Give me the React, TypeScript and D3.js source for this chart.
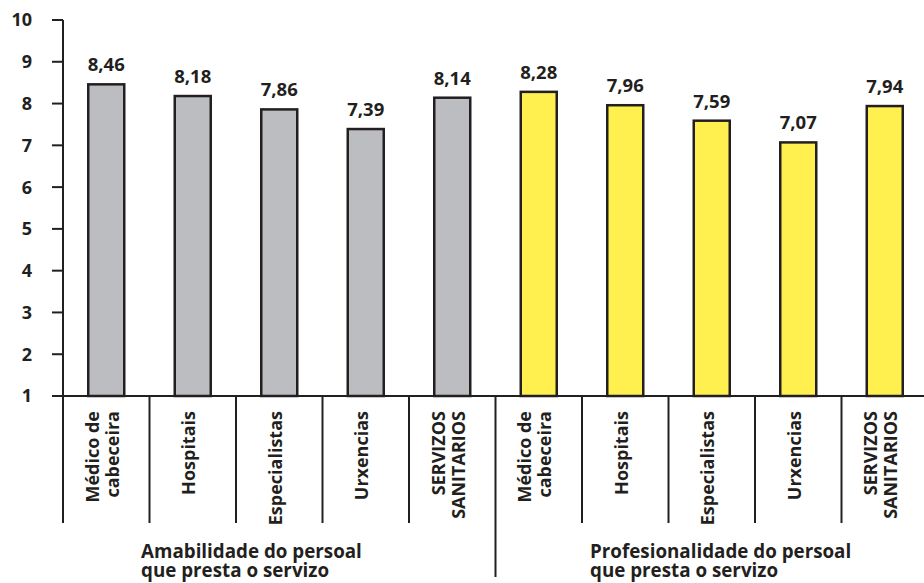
import React from "react";
import * as d3 from "d3";

const categories = ["Médico de|cabeceira", "Hospitais", "Especialistas", "Urxencias", "SERVIZOS|SANITARIOS"];
const amabilidade = [8.46, 8.18, 7.86, 7.39, 8.14];
const profesionalidade = [8.28, 7.96, 7.59, 7.07, 7.94];
const groupLabels = [
  ["Amabilidade do persoal", "que presta o servizo"],
  ["Profesionalidade do persoal", "que presta o servizo"],
];
const yTicks = [1, 2, 3, 4, 5, 6, 7, 8, 9, 10];

const W = 924;
const H = 583;
const FONT = "'Open Sans', 'DejaVu Sans', sans-serif";

export default function App() {
  const items = [
    ...amabilidade.map((v, i) => ({ key: `a${i}`, cat: categories[i], v, g: 0 })),
    ...profesionalidade.map((v, i) => ({ key: `p${i}`, cat: categories[i], v, g: 1 })),
  ];
  const x = d3.scaleBand<string>().domain(items.map((d) => d.key)).range([63, 928]);
  const y = d3.scaleLinear().domain([1, 10]).range([396, 20]);
  const bw = 36;
  const colors = ["#bcbdc0", "#fff04f"];
  const stroke = "#231f20";
  const fmt = (v: number) => v.toFixed(2).replace(".", ",");

  return (
    <svg width={W} height={H} style={{ position: "absolute", left: 0, top: 0, background: "#fff" }} fontFamily={FONT}>
      {/* y axis */}
      <line x1={63} x2={63} y1={20} y2={523} stroke={stroke} strokeWidth={2} />
      {yTicks.map((t) => (
        <g key={t}>
          <line x1={52} x2={63} y1={y(t)} y2={y(t)} stroke={stroke} strokeWidth={2} />
          <text x={32} y={y(t)} dy="0.36em" textAnchor="end" fontSize={18} fontWeight={700} fill={stroke}>
            {t}
          </text>
        </g>
      ))}
      {/* bars */}
      {items.map((d) => {
        const cx = (x(d.key) as number) + x.bandwidth() / 2;
        return (
          <g key={d.key}>
            <rect x={cx - bw / 2} y={y(d.v)} width={bw} height={y(1) - y(d.v)} fill={colors[d.g]} stroke={stroke} strokeWidth={2.5} />
            <text x={cx} y={y(d.v) - 13} textAnchor="middle" fontSize={18.5} fontWeight={700} fill={stroke}>
              {fmt(d.v)}
            </text>
          </g>
        );
      })}
      {/* x axis */}
      <line x1={52} x2={W} y1={396} y2={396} stroke={stroke} strokeWidth={2} />
      {/* separators */}
      {items.map((d, i) => {
        if (i === 0) return null;
        const sx = x(d.key) as number;
        return <line key={"s" + d.key} x1={sx} x2={sx} y1={396} y2={i === 5 ? 577 : 523} stroke={stroke} strokeWidth={2} />;
      })}
      {/* category labels */}
      {items.map((d) => {
        const cx = (x(d.key) as number) + x.bandwidth() / 2 - 4;
        const lines = d.cat.split("|");
        const lh = 20;
        return (
          <text
            key={"c" + d.key}
            transform={`translate(${cx},411) rotate(-90)`}
            textAnchor="end"
            fontSize={18}
            fontWeight={700}
            fill={stroke}
          >
            {lines.map((l, j) => (
              <tspan key={j} x={0} y={(j - (lines.length - 1) / 2) * lh} dy="0.36em">
                {l}
              </tspan>
            ))}
          </text>
        );
      })}
      {/* group labels */}
      {groupLabels.map((gl, g) => (
        <text key={"g" + g} x={g === 0 ? 141 : 590} y={558} fontSize={18.8} fontWeight={700} fill={stroke}>
          {gl.map((l, j) => (
            <tspan key={j} x={g === 0 ? 141 : 590} dy={j === 0 ? 0 : 18.5}>
              {l}
            </tspan>
          ))}
        </text>
      ))}
    </svg>
  );
}
